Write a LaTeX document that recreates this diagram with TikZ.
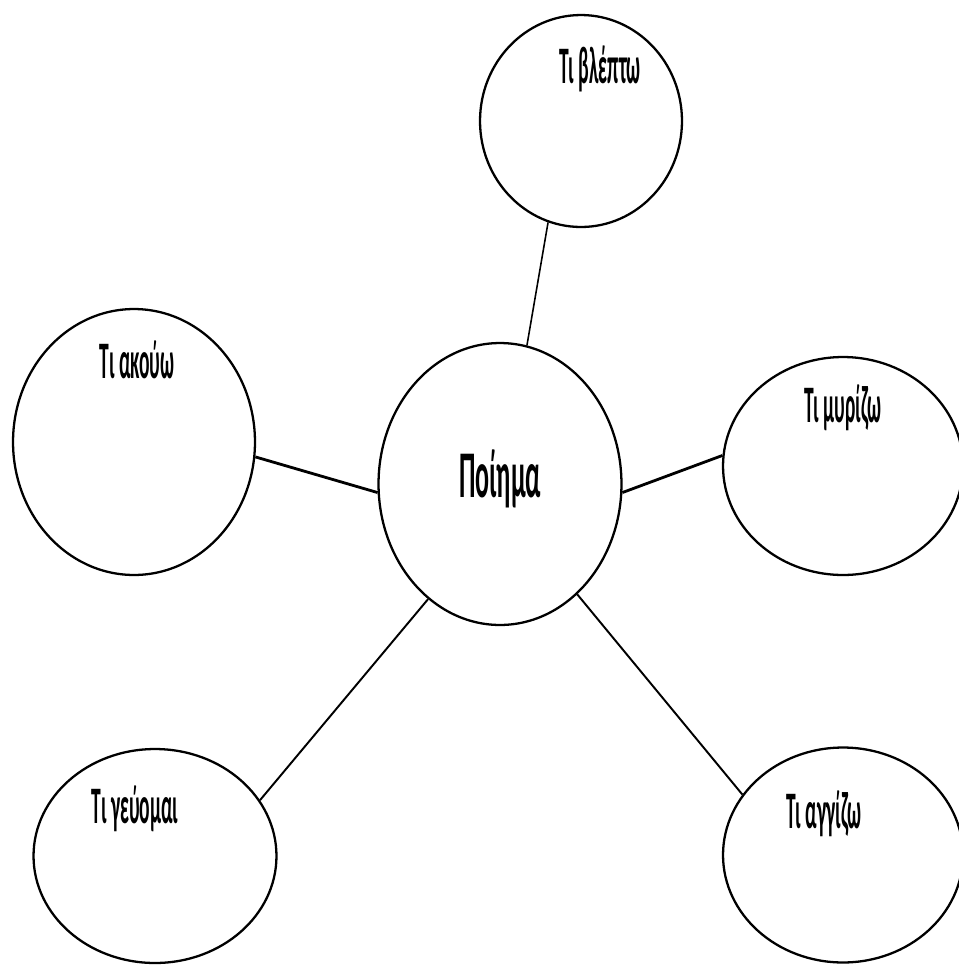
\documentclass[tikz,border=0pt]{standalone}
\usepackage{fontspec}
\newfontfamily\lblfont[FakeStretch=0.37]{Carlito}
\newfontfamily\poemfont[FakeStretch=0.39]{Carlito}
\usetikzlibrary{shapes.geometric,positioning}
\tikzset{main node/.style={ellipse,draw,line width=1.3pt,inner sep=0pt,minimum width=4.86cm,minimum height=5.64cm},
         sense node/.style={ellipse,draw,line width=1.3pt,inner sep=0pt},
         sense label/.style={rectangle,draw=none,inner sep=0pt,anchor=base,font=\lblfont\bfseries\fontsize{30}{32}\selectfont},
         main label/.style={rectangle,draw=none,inner sep=0pt,anchor=base,font=\poemfont\bfseries\fontsize{38}{40}\selectfont},
         link/.style={black,line width=1.1pt},
}
\begin{document}
\begin{tikzpicture}[x=0.02cm,y=-0.02cm]

\clip (0,0) rectangle (959,968);
\fill[white] (0,0) rectangle (959,968);

\node[main node] (poem) at (500,484) {};
\node[sense node,minimum width=4.04cm,minimum height=4.24cm] (see) at (581,121) {};
\node[sense node,minimum width=4.84cm,minimum height=5.32cm] (hear) at (134,442) {};
\node[sense node,minimum width=4.8cm,minimum height=4.36cm] (smell) at (843,466) {};
\node[sense node,minimum width=4.86cm,minimum height=4.28cm] (taste) at (155,856) {};
\node[sense node,minimum width=4.8cm,minimum height=4.3cm] (touch) at (843,855) {};

\node[main label] (poem text) at (500,497) {Ποίημα};
\node[sense label] (see text) at (600,83) {Τι βλέπτω};
\node[sense label] (hear text) at (137,378) {Τι ακούω};
\node[sense label] (smell text) at (843,422) {Τι μυρίζω};
\node[sense label] (taste text) at (135,823) {Τι γεύομαι};
\node[sense label] (touch text) at (824,828) {Τι αγγίζω};

\draw[link,line width=0.9pt] (see.-108) -- (poem.79);
\draw[link,line width=1.6pt] (hear.-7) -- (poem.184);
\draw[link,line width=1.6pt] (poem.-4) -- (smell.175);
\draw[link] (poem.238) -- (taste.28);
\draw[link] (poem.-55) -- (touch.149);
\end{tikzpicture}
\end{document}
